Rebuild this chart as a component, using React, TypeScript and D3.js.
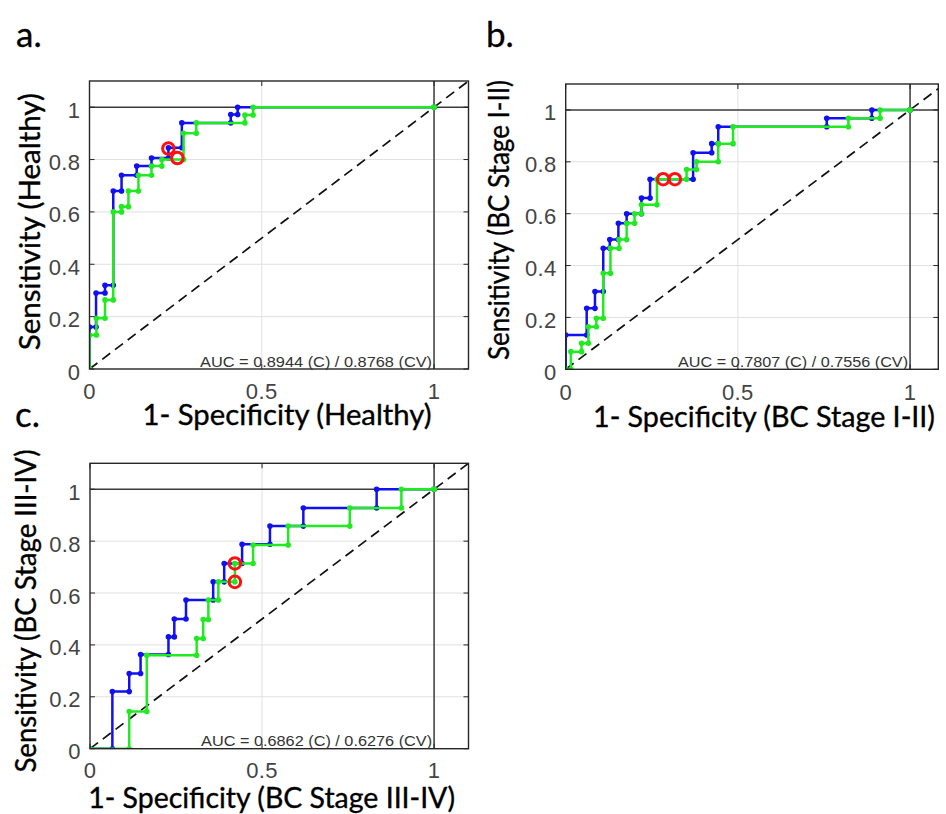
import React from 'react';
import * as d3 from 'd3';

type Pt = [number, number];

// ROC vertices (1-specificity, sensitivity) — step-after curves
const aBlue: Pt[] = [[0, 0], [0, 0.16], [0.019, 0.29], [0.045, 0.32], [0.069, 0.68], [0.093, 0.74], [0.137, 0.775], [0.18, 0.806], [0.229, 0.845], [0.268, 0.94], [0.41, 0.972], [0.43, 1.0], [1, 1]];
const aGreen: Pt[] = [[0, 0], [0, 0.13], [0.02, 0.194], [0.045, 0.264], [0.069, 0.6], [0.093, 0.62], [0.113, 0.68], [0.142, 0.74], [0.18, 0.775], [0.21, 0.8], [0.273, 0.9], [0.31, 0.94], [0.451, 0.97], [0.475, 1.0], [1, 1]];
const aCircles: Pt[] = [[0.229, 0.842], [0.255, 0.806]];

const bBlue: Pt[] = [[0, 0], [0, 0.132], [0.061, 0.235], [0.085, 0.3], [0.109, 0.467], [0.128, 0.5], [0.153, 0.563], [0.177, 0.6], [0.22, 0.66], [0.245, 0.733], [0.37, 0.835], [0.424, 0.87], [0.443, 0.935], [0.758, 0.968], [0.889, 1.0], [1, 1]];
const bGreen: Pt[] = [[0, 0], [0.015, 0.068], [0.046, 0.1], [0.066, 0.164], [0.089, 0.197], [0.109, 0.37], [0.13, 0.467], [0.155, 0.5], [0.177, 0.563], [0.2, 0.6], [0.22, 0.634], [0.265, 0.733], [0.351, 0.77], [0.38, 0.8], [0.443, 0.87], [0.486, 0.935], [0.821, 0.968], [0.913, 1.0], [1, 1]];
const bCircles: Pt[] = [[0.283, 0.733], [0.317, 0.733]];

const cBlue: Pt[] = [[0, 0], [0.065, 0.22], [0.114, 0.29], [0.147, 0.363], [0.228, 0.431], [0.245, 0.5], [0.279, 0.573], [0.358, 0.643], [0.39, 0.714], [0.442, 0.788], [0.523, 0.858], [0.62, 0.928], [0.833, 1.0], [1, 1]];
const cGreen: Pt[] = [[0, 0], [0.114, 0.143], [0.165, 0.36], [0.31, 0.425], [0.329, 0.498], [0.344, 0.573], [0.373, 0.643], [0.421, 0.714], [0.474, 0.785], [0.576, 0.858], [0.755, 0.928], [0.905, 1.0], [1, 1]];
const cCircles: Pt[] = [[0.421, 0.714], [0.421, 0.643]];

const yTicks = [0, 0.2, 0.4, 0.6, 0.8, 1];
const yTickLabels = ['0', '0.2', '0.4', '0.6', '0.8', '1'];
const xTicks = [0, 0.5, 1];
const xTickLabels = ['0', '0.5', '1'];
const gridY = [0.2, 0.4, 0.6, 0.8];
const gridX = [0.5];

const panels = [
  {
    id: 'a', letter: 'a.', letterX: 16, letterY: 47,
    left: 89.5, top: 81, width: 379, height: 288, xmax: 1.1,
    blue: aBlue, green: aGreen, circles: aCircles,
    auc: 'AUC = 0.8944 (C) / 0.8768 (CV)', aucLen: 232,
    xTitle: '1- Specificity (Healthy)', xTitleCx: 287, xTitleY: 425, xTitleLen: 289,
    yTitle: 'Sensitivity (Healthy)', yTitleCy: 221.7, yTitleX: 40, yTitleLen: 257,
    xTickY: 399,
  },
  {
    id: 'b', letter: 'b.', letterX: 486, letterY: 47,
    left: 565.7, top: 84, width: 372.6, height: 285.3, xmax: 1.082,
    blue: bBlue, green: bGreen, circles: bCircles,
    auc: 'AUC = 0.7807 (C) / 0.7556 (CV)', aucLen: 230,
    xTitle: '1- Specificity (BC Stage I-II)', xTitleCx: 764, xTitleY: 427, xTitleLen: 342,
    yTitle: 'Sensitivity (BC Stage I-II)', yTitleCy: 220, yTitleX: 509, yTitleLen: 280,
    xTickY: 400,
  },
  {
    id: 'c', letter: 'c.', letterX: 15, letterY: 427,
    left: 90, top: 463.3, width: 378.5, height: 285.4, xmax: 1.1,
    blue: cBlue, green: cGreen, circles: cCircles,
    auc: 'AUC = 0.6862 (C) / 0.6276 (CV)', aucLen: 231,
    xTitle: '1- Specificity (BC Stage III-IV)', xTitleCx: 271.7, xTitleY: 807.5, xTitleLen: 367,
    yTitle: 'Sensitivity (BC Stage III-IV)', yTitleCy: 611, yTitleX: 36, yTitleLen: 323,
    xTickY: 778,
  },
];

const BLUE = '#1010f2';
const GREEN = '#22ea22';
const TITLE_FONT = 'Lato, "Open Sans", sans-serif';
const TICK_FONT = '"Liberation Sans", Arial, sans-serif';

function corners(pts: Pt[]): Pt[] {
  const out: Pt[] = [];
  pts.forEach((d, i) => {
    if (i > 0) out.push([d[0], pts[i - 1][1]]);
    out.push(d);
  });
  return out;
}

function Panel({ p }: { p: typeof panels[number] }) {
  const x = d3.scaleLinear().domain([0, p.xmax]).range([p.left, p.left + p.width]);
  const y = d3.scaleLinear().domain([0, 1.1]).range([p.top + p.height, p.top]);
  const line = d3.line<Pt>().x(d => x(d[0])).y(d => y(d[1])).curve(d3.curveStepAfter);
  const bottom = p.top + p.height;
  const right = p.left + p.width;
  const clipId = 'clip-' + p.id;
  const tickLen = 5;
  const axisColor = '#262626';
  return (
    <g>
      <defs>
        <clipPath id={clipId}>
          <rect x={p.left} y={p.top} width={p.width} height={p.height} />
        </clipPath>
      </defs>
      <rect x={p.left} y={p.top} width={p.width} height={p.height} fill="#fff" />
      {gridY.map(v => (
        <line key={'gy' + v} x1={p.left} x2={right} y1={y(v)} y2={y(v)} stroke="#e0e0e0" strokeWidth={1} />
      ))}
      {gridX.map(v => (
        <line key={'gx' + v} x1={x(v)} x2={x(v)} y1={p.top} y2={bottom} stroke="#e0e0e0" strokeWidth={1} />
      ))}
      <line x1={p.left} x2={right} y1={y(1)} y2={y(1)} stroke="#3a3a3a" strokeWidth={1.5} />
      <line x1={x(1)} x2={x(1)} y1={p.top} y2={bottom} stroke="#3a3a3a" strokeWidth={1.5} />
      <g clipPath={`url(#${clipId})`}>
        <line x1={x(0)} y1={y(0)} x2={x(1.1)} y2={y(1.1)} stroke="#111" strokeWidth={1.7} strokeDasharray="10,6" />
        <path d={line(p.blue) || ''} fill="none" stroke={BLUE} strokeWidth={2.5} />
        {corners(p.blue).map((d, i) => (
          <circle key={'bd' + i} cx={x(d[0])} cy={y(d[1])} r={2.8} fill={BLUE} />
        ))}
        <path d={line(p.green) || ''} fill="none" stroke={GREEN} strokeWidth={2.5} />
        {corners(p.green).map((d, i) => (
          <circle key={'gd' + i} cx={x(d[0])} cy={y(d[1])} r={2.8} fill={GREEN} />
        ))}
        {p.circles.map((d, i) => (
          <circle key={'rc' + i} cx={x(d[0])} cy={y(d[1])} r={5.8} fill="none" stroke="#ff1010" strokeWidth={3} />
        ))}
      </g>
      <rect x={p.left} y={p.top} width={p.width} height={p.height} fill="none" stroke={axisColor} strokeWidth={1.4} />
      {yTicks.map(v => (
        <g key={'yt' + v}>
          <line x1={p.left} x2={p.left + tickLen} y1={y(v)} y2={y(v)} stroke={axisColor} />
          <line x1={right} x2={right - tickLen} y1={y(v)} y2={y(v)} stroke={axisColor} />
        </g>
      ))}
      {xTicks.map(v => (
        <g key={'xt' + v}>
          <line x1={x(v)} x2={x(v)} y1={bottom} y2={bottom - tickLen} stroke={axisColor} />
          <line x1={x(v)} x2={x(v)} y1={p.top} y2={p.top + tickLen} stroke={axisColor} />
        </g>
      ))}
      {yTicks.map((v, i) => (
        <text key={'yl' + v} x={p.left - 9} y={y(v) + 10.5} textAnchor="end" fontFamily={TICK_FONT} fontSize={22} fill="#444" letterSpacing={0.4}>
          {yTickLabels[i]}
        </text>
      ))}
      {xTicks.map((v, i) => (
        <text key={'xl' + v} x={x(v)} y={p.xTickY} textAnchor="middle" fontFamily={TICK_FONT} fontSize={22} fill="#444" letterSpacing={0.4}>
          {xTickLabels[i]}
        </text>
      ))}
      <text x={x(1) - 2} y={bottom - 2.5} textAnchor="end" fontFamily={TICK_FONT} fontSize={15.5} fill="#333" textLength={p.aucLen} lengthAdjust="spacingAndGlyphs">
        {p.auc}
      </text>
      <text x={p.xTitleCx} y={p.xTitleY} textAnchor="middle" fontFamily={TITLE_FONT} fontSize={28} fill="#000" stroke="#000" strokeWidth={0.35} textLength={p.xTitleLen} lengthAdjust="spacingAndGlyphs">
        {p.xTitle}
      </text>
      <text transform={`translate(${p.yTitleX},${p.yTitleCy}) rotate(-90)`} textAnchor="middle" fontFamily={TITLE_FONT} fontSize={28} fill="#000" stroke="#000" strokeWidth={0.35} textLength={p.yTitleLen} lengthAdjust="spacingAndGlyphs">
        {p.yTitle}
      </text>
      <text x={p.letterX} y={p.letterY} fontFamily={TITLE_FONT} fontSize={35} fill="#000" stroke="#000" strokeWidth={0.3}>
        {p.letter}
      </text>
    </g>
  );
}

export default function App() {
  return (
    <svg width={946} height={814} style={{ position: 'absolute', left: 0, top: 0, background: '#fff' }}>
      <rect x={0} y={0} width={946} height={814} fill="#fff" />
      {panels.map(p => (
        <Panel key={p.id} p={p} />
      ))}
    </svg>
  );
}
